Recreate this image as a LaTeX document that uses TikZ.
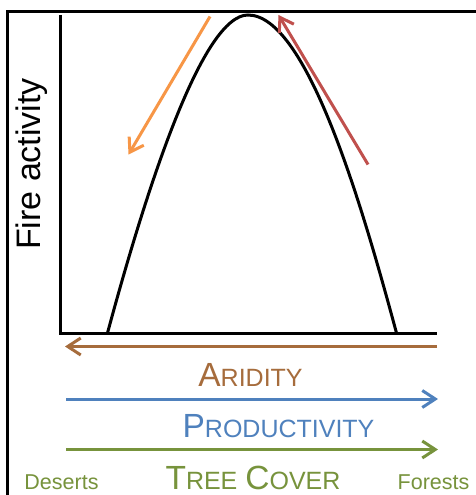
\documentclass[tikz,border=0pt]{standalone}
\usepackage{fontspec}
\setmainfont{Liberation Sans}
\usetikzlibrary{arrows.meta}
\definecolor{firedown}{HTML}{F79646}
\definecolor{fireup}{HTML}{C0504D}
\definecolor{aridc}{HTML}{A66C3C}
\definecolor{prodc}{HTML}{4F81BD}
\definecolor{treec}{HTML}{77933C}
% fake small caps: one large initial, smaller remaining capitals
\newcommand{\capbig}[1]{{\fontsize{33.5}{36}\selectfont #1}}
\newcommand{\capsmall}[1]{{\fontsize{25}{28}\selectfont #1}}
\begin{document}
\begin{tikzpicture}[x=1pt,y=-1pt,
  thickline/.style={line width=3pt},
  barb/.style={thickline,-{Straight Barb[length=13pt,width=17pt]}},
  axislabel/.style={font=\fontsize{34}{36}\selectfont,inner sep=0pt},
  endlabel/.style={font=\fontsize{21.5}{24}\selectfont,text=treec,inner sep=0pt,anchor=base}]
\useasboundingbox (0,0) rectangle (475,495);
\fill[white] (0,0) rectangle (475,495);
% frame
\draw[thickline] (7.5,500) -- (7.5,11.5) -- (480,11.5);
% axes
\coordinate (ytop) at (60.5,15);
\coordinate (origin) at (60.5,333);
\coordinate (xend) at (437,333);
\draw[thickline,line join=miter] (ytop) -- (origin) -- (xend);
% fire activity curve
\coordinate (cl) at (107.5,333);
\coordinate (peak) at (248,15);
\coordinate (cr) at (396.5,333);
\draw[thickline] (cl) .. controls (148,183) and (203,15) .. (peak)
                      .. controls (308,15) and (364,213) .. (cr);
\node[axislabel,rotate=90,anchor=base] (ylab) at (40,164) {Fire activity};
% arrows along the curve
\coordinate (oa) at (210,16.5);
\coordinate (ob) at (128.5,154.5);
\coordinate (ra) at (368,164.5);
\coordinate (rb) at (278.5,15);
\draw[barb,firedown] (oa) -- (ob);
\draw[barb,fireup] (ra) -- (rb);
% gradient arrows
\coordinate (a1) at (437,346.5);
\coordinate (a2) at (65,346.5);
\coordinate (p1) at (66,399);
\coordinate (p2) at (438,399);
\coordinate (t1) at (66,449.5);
\coordinate (t2) at (438,449.5);
\draw[barb,aridc] (a1) -- (a2);
\draw[barb,prodc] (p1) -- (p2);
\draw[barb,treec] (t1) -- (t2);
\node[inner sep=0pt,anchor=base,text=aridc] (arid) at (250.5,386) {\capbig{A}\capsmall{RIDITY}};
\node[inner sep=0pt,anchor=base,text=prodc] (prod) at (278.5,437) {\capbig{P}\capsmall{RODUCTIVITY}};
\node[inner sep=0pt,anchor=base,text=treec] (tree) at (253,489) {\capbig{T}\capsmall{REE}\hspace{8pt}\capbig{C}\capsmall{OVER}};
\node[endlabel] (des) at (61.5,489) {Deserts};
\node[endlabel] (for) at (433.5,489) {Forests};
\end{tikzpicture}
\end{document}
